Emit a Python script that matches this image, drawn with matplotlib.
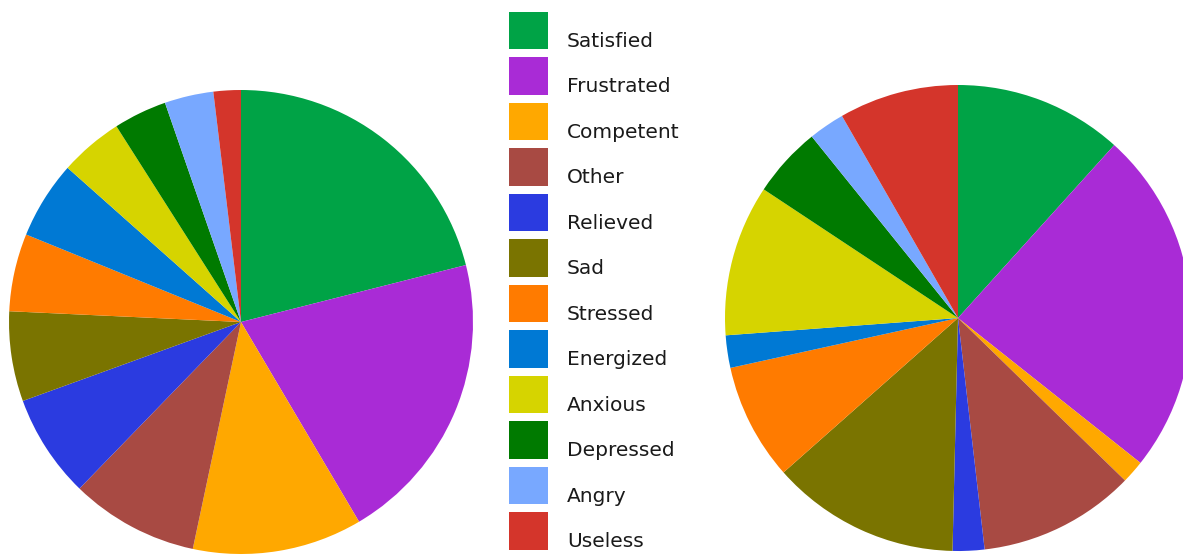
import matplotlib
matplotlib.use("Agg")
import matplotlib.pyplot as plt
from matplotlib.patches import Rectangle

# Emotion categories and their colours
categories = ["Satisfied", "Frustrated", "Competent", "Other", "Relieved", "Sad",
              "Stressed", "Energized", "Anxious", "Depressed", "Angry", "Useless"]
colors = ["#00A346", "#A92BD6", "#FFA800", "#A84A43", "#2B3BE0", "#7A7400",
          "#FF7B00", "#0079D4", "#D6D400", "#007A00", "#78A8FF", "#D4352B"]

# Share of responses (%) for each emotion, first and second survey
left_values = [21.0, 20.4, 11.8, 8.9, 7.2, 6.25, 5.4, 5.4, 4.4, 3.7, 3.4, 1.9]
right_values = [11.7, 24.0, 1.6, 10.9, 2.2, 13.1, 8.1, 2.25, 10.5, 4.9, 2.5, 8.3]

W, H = 1183, 555
fig = plt.figure(figsize=(W / 100, H / 100), dpi=100)
fig.patch.set_facecolor("white")


def pie_axes(cx, cy, r):
    """Square axes centred at pixel (cx, cy) measured from the top-left."""
    return fig.add_axes([(cx - r) / W, (H - cy - r) / H, 2 * r / W, 2 * r / H])


for vals, (cx, cy, r) in [(left_values, (241, 322, 232)),
                          (right_values, (958, 318, 233))]:
    ax = pie_axes(cx, cy, r)
    ax.pie(vals, colors=colors, startangle=90, counterclock=False, radius=1,
           wedgeprops=dict(linewidth=0))
    ax.set_xlim(-1, 1)
    ax.set_ylim(-1, 1)
    ax.set_aspect("equal")
    ax.axis("off")

# Legend drawn in pixel coordinates
lax = fig.add_axes([0, 0, 1, 1])
lax.set_xlim(0, W)
lax.set_ylim(H, 0)
lax.axis("off")
for i, (name, col) in enumerate(zip(categories, colors)):
    top = 11.7 + i * 45.5
    lax.add_patch(Rectangle((509, top), 39, 37.6, facecolor=col, edgecolor="none"))
    lax.text(567, top + 35, name, fontsize=14.5, color="#1a1a1a",
             va="baseline", ha="left", family="DejaVu Sans")

fig.savefig("out.png", dpi=100, facecolor="white")
